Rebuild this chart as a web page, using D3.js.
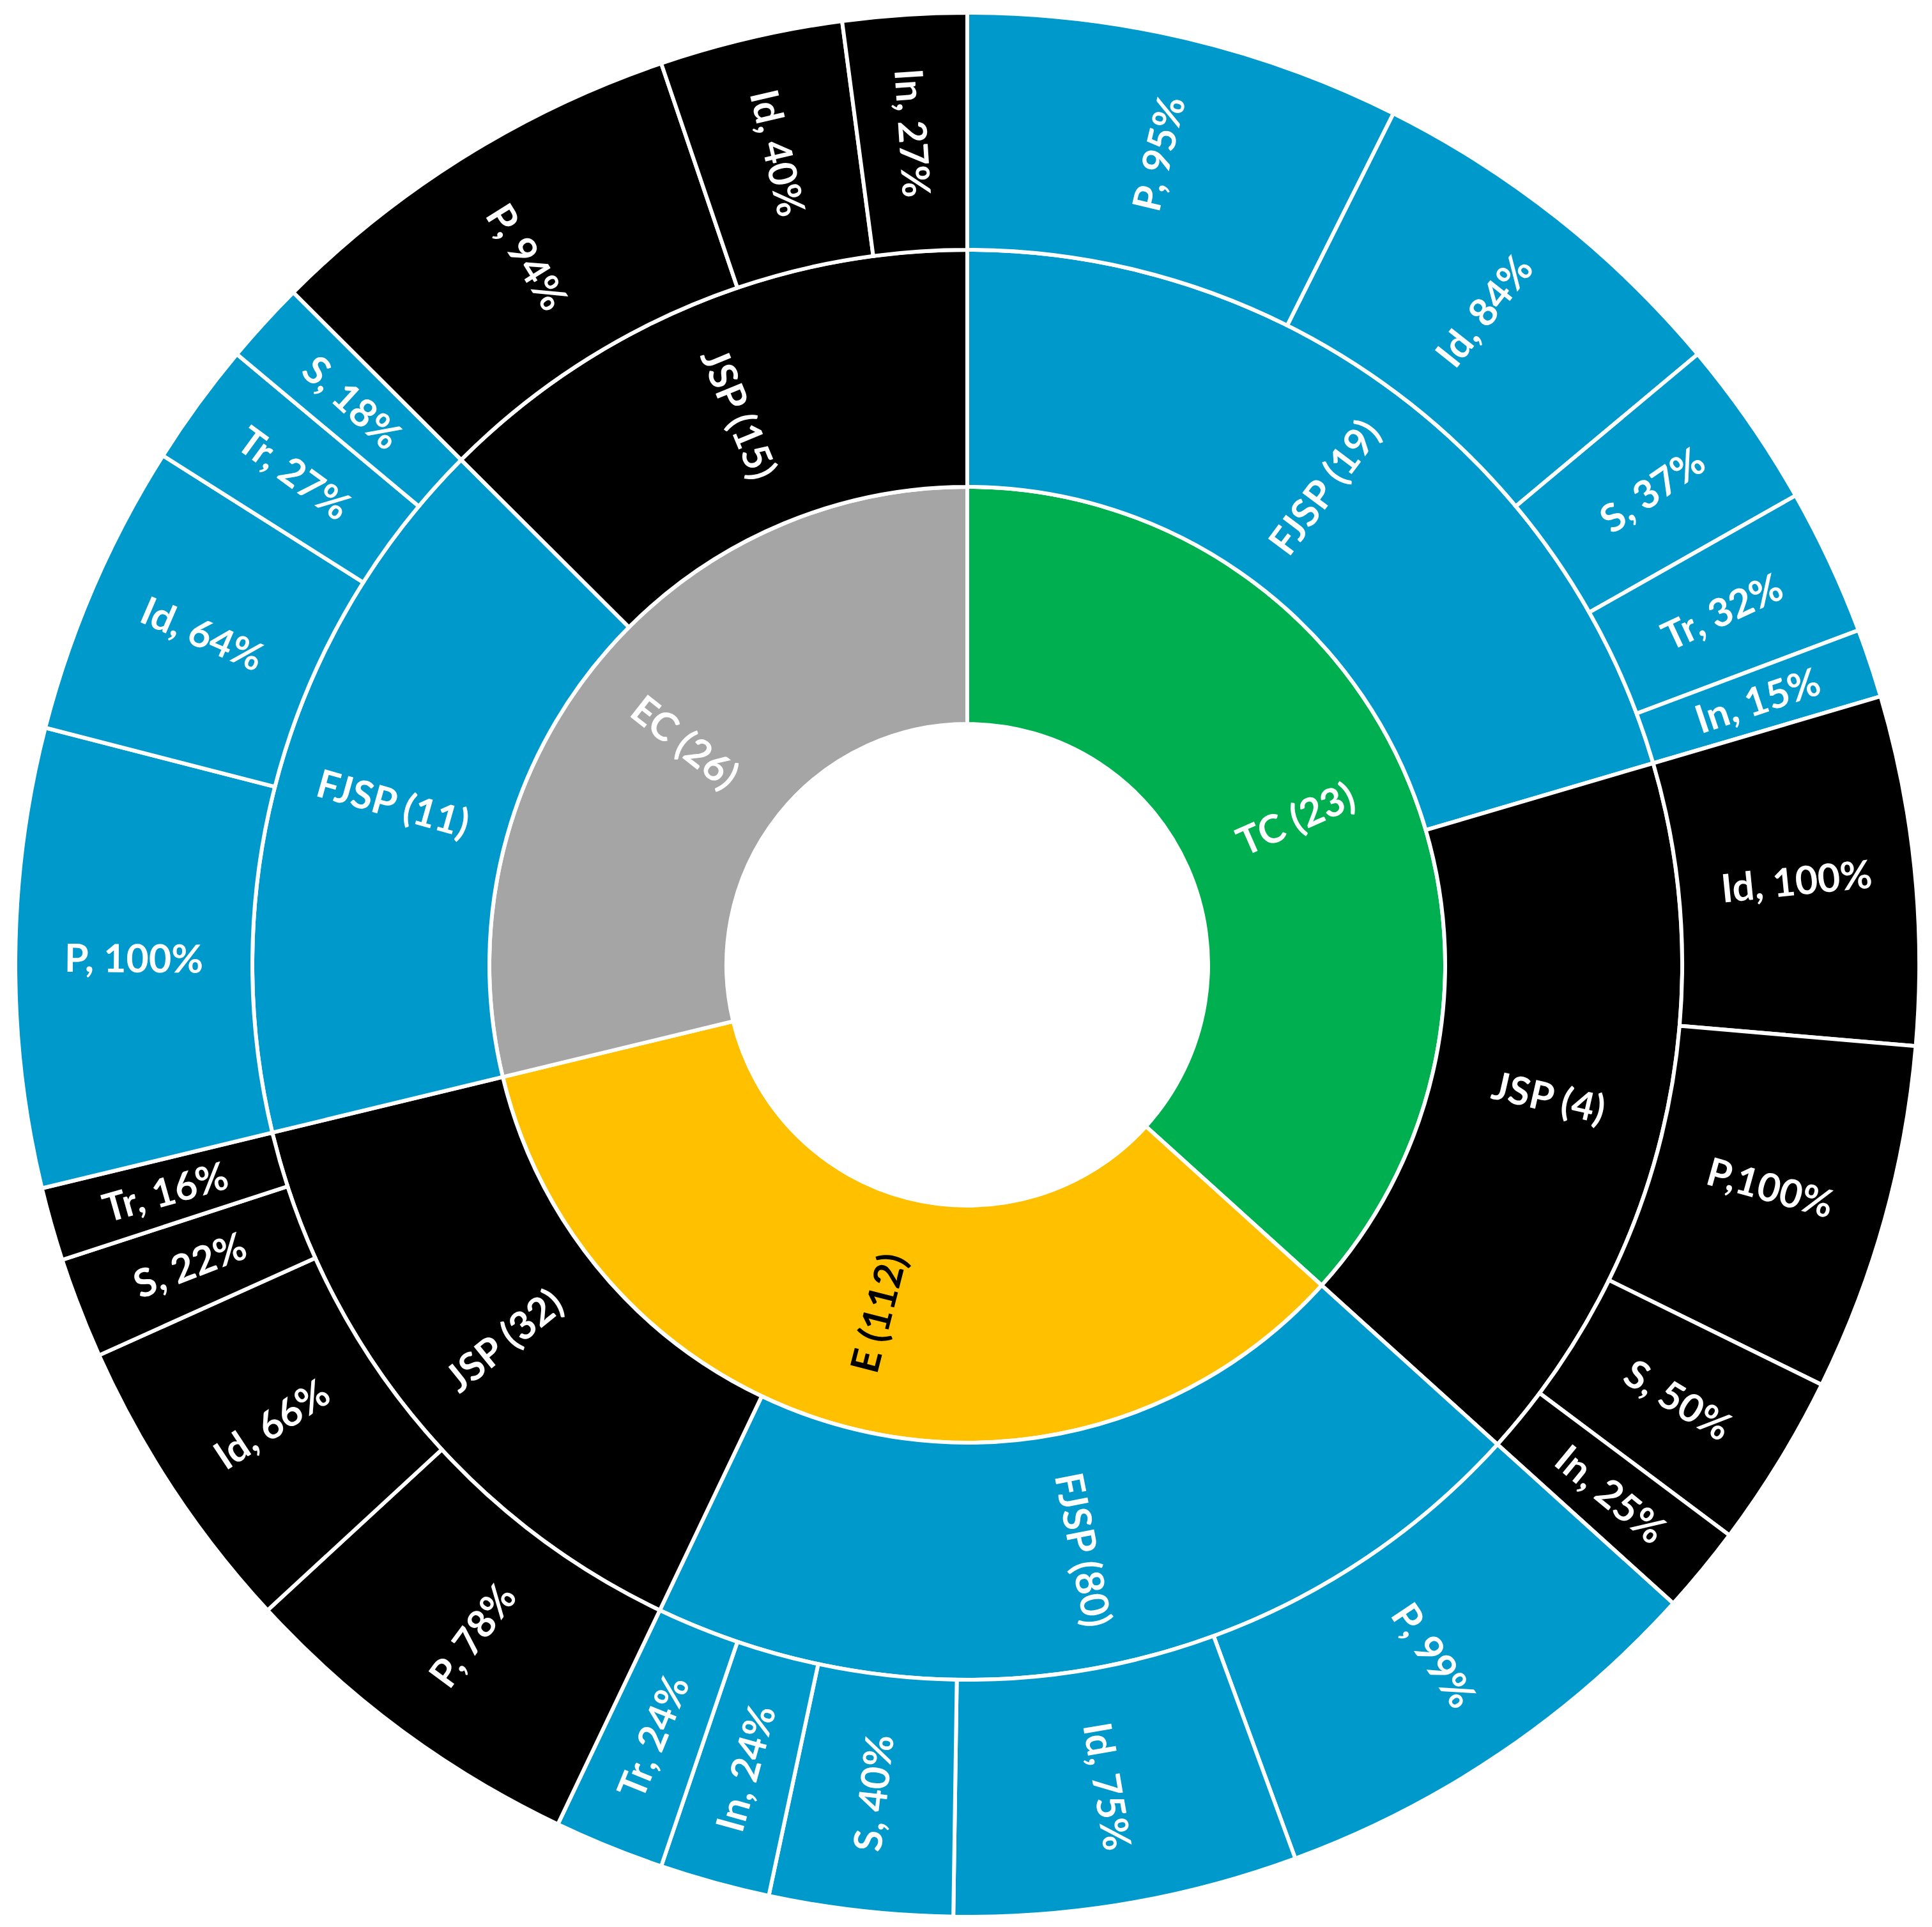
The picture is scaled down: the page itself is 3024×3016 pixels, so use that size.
<!DOCTYPE html>
<html>
<head>
<meta charset="utf-8">
<script src="https://cdn.jsdelivr.net/npm/d3@7"></script>
<style>
  html, body { margin: 0; padding: 0; background: #fff; }
  text { font-family: Lato, "Open Sans", sans-serif; font-weight: bold; }
</style>
</head>
<body>
<div id="chart"></div>
<script>
/**
 * DATA (clockwise from 12 o'clock)
 * */
const topNames = ["TC (23)", "E (112)", "EC (26)"];
const topColors = ["#00B050", "#FFC000", "#A5A5A5"];
const topTextColors = ["#ffffff", "#000000", "#ffffff"];

const midNames = [
  ["FJSP (19)", "JSP (4)"],
  ["FJSP (80)", "JSP (32)"],
  ["FJSP (11)", "JSP (15)"]
];
const midColors = { FJSP: "#0099CC", JSP: "#000000" };

const leafLabels = [
  [["P, 95%", "Id, 84%", "S, 37%", "Tr, 32%", "In, 15%"], ["Id, 100%", "P,100%", "S, 50%", "In, 25%"]],
  [["P, 99%", "Id, 75%", "S, 40%", "In, 24%", "Tr, 24%"], ["P, 78%", "Id, 66%", "S, 22%", "Tr, 16%"]],
  [["P, 100%", "Id, 64%", "Tr, 27%", "S, 18%"], ["P, 94%", "Id, 40%", "In, 27%"]]
];
// arc sizes as drawn; the TC / JSP (4) arcs are drawn smaller than their labels
const leafSizes = [
  [[95, 84, 37, 32, 15], [76, 76, 38, 19]],
  [[99, 75, 40, 24, 24], [78, 66, 22, 16]],
  [[100, 64, 27, 18], [94, 40, 27]]
];

/**
 * CONSTANTS
 * */
const width = 3024,
  height = 3016,
  cx = 1514,
  cy = 1510;

// build the tree
const tree = {
  name: "root",
  children: topNames.map((t, i) => ({
    name: t,
    color: topColors[i],
    textColor: topTextColors[i],
    children: midNames[i].map((m, j) => ({
      name: m,
      color: midColors[m.split(" ")[0]],
      textColor: "#ffffff",
      children: leafLabels[i][j].map((l, k) => ({
        name: l,
        color: midColors[m.split(" ")[0]],
        textColor: "#ffffff",
        size: leafSizes[i][j][k]
      }))
    }))
  }))
};

const root = d3.hierarchy(tree).sum(d => d.size || 0);
d3.partition().size([2 * Math.PI, 4])(root);

const radius = d3.scaleLinear().domain([1, 4]).range([377, 1490]);

const arc = d3.arc()
  .startAngle(d => d.x0)
  .endAngle(d => d.x1)
  .innerRadius(d => radius(d.y0))
  .outerRadius(d => radius(d.y1));

const svg = d3.select("#chart")
  .append("svg")
  .attr("width", width)
  .attr("height", height);

const g = svg.append("g")
  .attr("transform", `translate(${cx},${cy})`);

const nodes = root.descendants().filter(d => d.depth > 0);

g.selectAll("path")
  .data(nodes)
  .join("path")
  .attr("d", arc)
  .attr("fill", d => d.data.color)
  .attr("stroke", "#ffffff")
  .attr("stroke-width", 6)
  .attr("stroke-linejoin", "miter");

g.selectAll("text")
  .data(nodes)
  .join("text")
  .attr("transform", d => {
    const x = (d.x0 + d.x1) / 2 * 180 / Math.PI;
    const y = radius((d.y0 + d.y1) / 2);
    return `rotate(${x - 90}) translate(${y},0) rotate(${x < 180 ? 0 : 180})`;
  })
  .attr("text-anchor", "middle")
  .attr("dy", "0.35em")
  .attr("font-size", 61)
  .attr("fill", d => d.data.textColor)
  .text(d => d.data.name);
</script>
</body>
</html>
